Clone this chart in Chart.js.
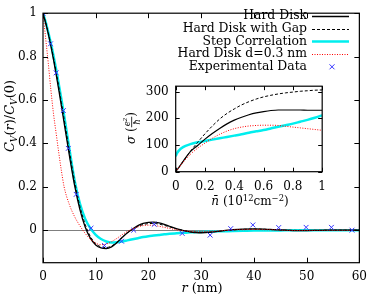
<!DOCTYPE html>
<html>
<head>
<meta charset="utf-8">
<script src="https://cdn.jsdelivr.net/npm/chart.js@4/dist/chart.umd.min.js"></script>
<style>
  body { margin: 0; background: #fff; }
  #wrap { position: relative; width: 374px; height: 295px; }
  #main { position: absolute; left: 0; top: 0; }
  #inset { position: absolute; left: 118px; top: 72px; }
</style>
</head>
<body>
<div id="wrap">
  <canvas id="main" width="374" height="295"></canvas>
  <canvas id="inset" width="216" height="135"></canvas>
</div>
<script>
// main panel: correlation vs distance r (nm)
const rGrid = [0, 0.5, 1, 1.5, 2, 2.5, 3, 3.5, 4, 5, 6, 7, 8, 9, 10, 11, 12, 13, 14, 15, 16, 17, 18, 19, 20,
  21, 22, 23, 24, 25, 26, 27, 28, 29, 30, 32, 34, 36, 38, 40, 42, 44, 46, 48, 50, 52, 54, 56, 58, 60];
const hardDisk = [1, 0.955, 0.905, 0.848, 0.785, 0.717, 0.645, 0.571, 0.495, 0.345, 0.205, 0.095, 0.015, -0.038, -0.068, -0.082, -0.085, -0.077, -0.058, -0.034, -0.012, 0.005, 0.021, 0.031, 0.036,
  0.037, 0.034, 0.027, 0.018, 0.009, 0.002, -0.004, -0.009, -0.011, -0.012, -0.009, -0.003, 0.002, 0.005, 0.006, 0.005, 0.002, 0, -0.002, -0.002, -0.001, 0, 0, 0, 0];
const hardDiskGap = [1, 0.957, 0.91, 0.855, 0.795, 0.73, 0.66, 0.588, 0.515, 0.365, 0.225, 0.11, 0.027, -0.03, -0.062, -0.077, -0.08, -0.073, -0.056, -0.034, -0.013, 0.004, 0.017, 0.026, 0.03,
  0.031, 0.028, 0.022, 0.015, 0.008, 0.002, -0.003, -0.007, -0.009, -0.01, -0.008, -0.003, 0.001, 0.004, 0.005, 0.004, 0.002, 0, -0.001, -0.001, -0.001, 0, 0, 0, 0];
const stepCorr = [1, 0.96, 0.912, 0.86, 0.803, 0.74, 0.672, 0.602, 0.53, 0.375, 0.228, 0.122, 0.052, 0.008, -0.022, -0.041, -0.052, -0.057, -0.056, -0.052, -0.047, -0.042, -0.037, -0.032, -0.028,
  -0.025, -0.022, -0.019, -0.017, -0.015, -0.013, -0.012, -0.01, -0.009, -0.008, -0.006, -0.005, -0.004, -0.003, -0.002, -0.002, -0.002, -0.001, -0.001, -0.001, -0.001, 0, 0, 0, 0];
const hardDisk03 = [1, 0.885, 0.77, 0.645, 0.535, 0.445, 0.355, 0.272, 0.2, 0.118, 0.062, 0.02, -0.015, -0.042, -0.06, -0.067, -0.064, -0.053, -0.038, -0.021, -0.006, 0.006, 0.015, 0.021, 0.023,
  0.022, 0.018, 0.013, 0.008, 0.003, -0.001, -0.004, -0.006, -0.007, -0.007, -0.005, -0.002, 0.001, 0.002, 0.003, 0.002, 0.001, 0, -0.001, -0.001, 0, 0, 0, 0, 0];
const expR = [0, 1.43, 2.5, 3.86, 4.8, 6.3, 9.1, 11.65, 14.9, 17.2, 21.1, 26.4, 31.7, 35.6, 39.8, 44.7, 49.9, 54.7, 58.6];
const expC = [1, 0.859, 0.725, 0.551, 0.377, 0.165, 0.009, -0.071, -0.051, 0.0, 0.027, -0.015, -0.023, 0.007, 0.024, 0.012, 0.013, 0.013, 0.0];
const mainXTicks = [0, 10, 20, 30, 40, 50, 60];
const mainYTicks = [0, 0.2, 0.4, 0.6, 0.8, 1];

// inset: conductivity vs density
const nGrid = [0, 0.01, 0.02, 0.05, 0.1, 0.15, 0.2, 0.25, 0.3, 0.35, 0.4, 0.45, 0.5, 0.55, 0.6, 0.65, 0.7, 0.75, 0.8, 0.85, 0.9, 0.95, 1];
const sigHard = [0, 7.5, 15, 38, 75, 98, 122, 143, 162, 179, 193, 204, 213, 220, 225, 229, 231, 231, 231, 231, 230, 230, 230];
const sigGap = [0, 7.5, 15, 38, 76, 110, 142, 171, 197, 218, 235, 250, 262, 272, 280, 286, 291, 295, 298, 301, 303, 305, 306];
const sigStep = [58, 70, 78, 92, 103, 110, 115, 120, 125, 130, 135, 140, 146, 151, 156, 162, 168, 174, 180, 187, 194, 202, 211];
const sig03 = [0, 7, 14, 35, 65, 88, 107, 125, 140, 152, 161, 167, 171, 173, 174, 174, 173, 170, 167, 164, 161, 158, 155];
const insetXTicks = [0, 0.2, 0.4, 0.6, 0.8, 1];
const insetYTicks = [0, 100, 200, 300];

const FONT = '"DejaVu Serif"';
const pts = (xs, ys) => xs.map((x, i) => ({ x: x, y: ys[i] }));

function fontOf(s, size) { return (s.it ? 'italic ' : '') + size + 'px ' + FONT; }
function segWidth(ctx, s, size) {
  if (s.frac) {
    ctx.font = fontOf({ it: true }, size * 0.72);
    return Math.max(ctx.measureText(s.frac[0]).width, ctx.measureText(s.frac[1]).width) + 2;
  }
  ctx.font = fontOf(s, (s.sub || s.sup) ? size * 0.7 : size);
  return ctx.measureText(s.t).width;
}
function drawRich(ctx, segs, cx, cy, size, rot) {
  ctx.save();
  ctx.translate(cx, cy);
  if (rot) ctx.rotate(rot);
  ctx.fillStyle = '#000';
  ctx.textBaseline = 'alphabetic';
  ctx.textAlign = 'left';
  const total = segs.reduce((a, s) => a + segWidth(ctx, s, size), 0);
  let x = -total / 2;
  const base = size * 0.36;
  for (const s of segs) {
    const w = segWidth(ctx, s, size);
    if (s.frac) {
      const fs = size * 0.72;
      ctx.font = fontOf({ it: true }, fs);
      ctx.textAlign = 'center';
      const bar = base - size * 0.3;
      ctx.fillText(s.frac[0], x + w / 2, bar - 1.5);
      ctx.fillText(s.frac[1], x + w / 2, bar + 1.5 + fs * 0.73);
      ctx.fillRect(x, bar - 0.4, w, 0.8);
      ctx.textAlign = 'left';
    } else {
      ctx.font = fontOf(s, (s.sub || s.sup) ? size * 0.7 : size);
      const dy = s.sub ? size * 0.22 : s.sup ? -size * 0.4 : 0;
      ctx.fillText(s.t, x, base + dy);
    }
    x += w;
  }
  ctx.restore();
}

function frameAndTicks(chart, xTicks, yTicks, len) {
  const ctx = chart.ctx, a = chart.chartArea;
  const xs = chart.scales.x, ys = chart.scales.y;
  ctx.save();
  ctx.strokeStyle = '#000';
  ctx.lineWidth = 1;
  ctx.beginPath();
  xTicks.forEach(v => {
    const px = Math.round(xs.getPixelForValue(v)) + 0.5;
    ctx.moveTo(px, a.bottom); ctx.lineTo(px, a.bottom - len);
    ctx.moveTo(px, a.top); ctx.lineTo(px, a.top + len);
  });
  yTicks.forEach(v => {
    const py = Math.round(ys.getPixelForValue(v)) + 0.5;
    ctx.moveTo(a.left, py); ctx.lineTo(a.left + len, py);
    ctx.moveTo(a.right, py); ctx.lineTo(a.right - len, py);
  });
  ctx.stroke();
  ctx.lineWidth = 1.2;
  ctx.strokeRect(a.left, a.top, a.right - a.left, a.bottom - a.top);
  ctx.restore();
}

function fmt(v) { return String(Math.round(v * 10) / 10); }

const mainPlugin = {
  id: 'mainDeco',
  beforeDatasetsDraw(chart) {
    const ctx = chart.ctx, a = chart.chartArea;
    const py = Math.round(chart.scales.y.getPixelForValue(0)) + 0.5;
    ctx.save();
    ctx.strokeStyle = '#7f7f7f';
    ctx.lineWidth = 1;
    ctx.beginPath(); ctx.moveTo(a.left, py); ctx.lineTo(a.right, py); ctx.stroke();
    ctx.restore();
  },
  afterDatasetsDraw(chart) {
    const ctx = chart.ctx;
    frameAndTicks(chart, mainXTicks, mainYTicks, 5);
    // legend
    const rows = [
      { label: 'Hard Disk', color: '#000', width: 1.3, dash: [] },
      { label: 'Hard Disk with Gap', color: '#000', width: 1, dash: [3, 2] },
      { label: 'Step Correlation', color: '#00eeee', width: 2.5, dash: [] },
      { label: 'Hard Disk d=0.3 nm', color: '#ff0000', width: 1, dash: [1, 1.5] },
      { label: 'Experimental Data', marker: true }
    ];
    ctx.save();
    ctx.font = '12.4px ' + FONT;
    ctx.textAlign = 'right';
    ctx.textBaseline = 'middle';
    rows.forEach((r, i) => {
      const y = 16 + i * 12.7;
      ctx.fillStyle = '#000';
      ctx.fillText(r.label, 307, y);
      if (r.marker) {
        ctx.strokeStyle = '#3333ff'; ctx.lineWidth = 1; ctx.setLineDash([]);
        ctx.beginPath();
        ctx.moveTo(329.5, y - 2.5); ctx.lineTo(334.5, y + 2.5);
        ctx.moveTo(329.5, y + 2.5); ctx.lineTo(334.5, y - 2.5);
        ctx.stroke();
      } else {
        ctx.strokeStyle = r.color; ctx.lineWidth = r.width; ctx.setLineDash(r.dash);
        ctx.beginPath(); ctx.moveTo(312, Math.round(y) + 0.5); ctx.lineTo(349, Math.round(y) + 0.5); ctx.stroke();
      }
    });
    ctx.restore();
    // axis titles
    drawRich(ctx, [{ t: 'r', it: true }, { t: ' (nm)' }], 202, 287, 13);
    drawRich(ctx, [{ t: 'C', it: true }, { t: 'V', it: true, sub: true }, { t: '(' }, { t: 'r', it: true }, { t: ')/' },
      { t: 'C', it: true }, { t: 'V', it: true, sub: true }, { t: '(0)' }], 9, 116, 13, -Math.PI / 2);
  }
};

const insetPlugin = {
  id: 'insetDeco',
  beforeDraw(chart) {
    const ctx = chart.ctx, a = chart.chartArea;
    ctx.save();
    ctx.fillStyle = '#fff';
    ctx.fillRect(a.left, a.top, a.right - a.left, a.bottom - a.top);
    ctx.restore();
  },
  afterDatasetsDraw(chart) {
    const ctx = chart.ctx;
    frameAndTicks(chart, insetXTicks, insetYTicks, 4);
    drawRich(ctx, [{ t: 'n\u0304', it: true }, { t: ' (10' }, { t: '12', sup: true }, { t: 'cm' }, { t: '\u22122', sup: true }, { t: ')' }], 132, 129, 12);
    drawRich(ctx, [{ t: '\u03c3', it: true }, { t: ' (' }, { frac: ['e\u00b2', '\u0127'] }, { t: ')' }], 13, 56, 12, -Math.PI / 2);
  }
};

function axisCommon(ticksArr, width, height, pad) {
  return {
    type: 'linear',
    grid: { display: false, drawTicks: false },
    border: { display: false },
    ticks: { font: { family: FONT, size: 12 }, color: '#000', padding: pad, maxRotation: 0, autoSkip: false, callback: v => fmt(v) },
    afterBuildTicks: s => { s.ticks = ticksArr.map(v => ({ value: v })); },
    afterFit: s => { if (width != null) s.width = width; if (height != null) s.height = height; }
  };
}

const lineDs = (label, ys, color, width, dash, order) => ({
  label: label, data: pts(rGrid, ys), borderColor: color, borderWidth: width, borderDash: dash,
  pointRadius: 0, fill: false, cubicInterpolationMode: 'monotone', order: order
});

new Chart(document.getElementById('main'), {
  type: 'line',
  data: {
    datasets: [
      { label: 'Experimental Data', data: pts(expR, expC), showLine: false, pointStyle: 'crossRot', pointRadius: 3.4,
        pointBorderColor: '#3333ff', pointBorderWidth: 1, order: 0 },
      lineDs('Hard Disk d=0.3 nm', hardDisk03, '#ff0000', 1, [1, 1.5], 1),
      lineDs('Hard Disk with Gap', hardDiskGap, '#000', 1, [3, 2], 2),
      lineDs('Hard Disk', hardDisk, '#000', 1.3, [], 3),
      lineDs('Step Correlation', stepCorr, '#00eeee', 2.5, [], 4)
    ]
  },
  options: {
    responsive: false, animation: false, devicePixelRatio: 1,
    layout: { padding: { top: 7, right: 10, left: 0, bottom: 0 } },
    plugins: { legend: { display: false }, tooltip: { enabled: false } },
    scales: {
      x: Object.assign(axisCommon(mainXTicks, null, 32.3, 7), { min: 0, max: 60 }),
      y: Object.assign(axisCommon(mainYTicks, 43, null, 6), { min: -0.15, max: 1 })
    }
  },
  plugins: [mainPlugin]
});

const insetDs = (ys, color, width, dash, order) => ({
  data: pts(nGrid, ys), borderColor: color, borderWidth: width, borderDash: dash,
  pointRadius: 0, fill: false, cubicInterpolationMode: 'monotone', order: order
});

new Chart(document.getElementById('inset'), {
  type: 'line',
  data: {
    datasets: [
      insetDs(sig03, '#ff0000', 1, [1, 1.5], 1),
      insetDs(sigGap, '#000', 1, [3, 2], 2),
      insetDs(sigHard, '#000', 1.2, [], 3),
      insetDs(sigStep, '#00eeee', 2.5, [], 4)
    ]
  },
  options: {
    responsive: false, animation: false, devicePixelRatio: 1,
    layout: { padding: { top: 9, right: 6.3, left: 0, bottom: 0 } },
    plugins: { legend: { display: false }, tooltip: { enabled: false } },
    scales: {
      x: Object.assign(axisCommon(insetXTicks, null, 35.3, 8), { min: 0, max: 1 }),
      y: Object.assign(axisCommon(insetYTicks, 57.7, null, 7), { min: 0, max: 320 })
    }
  },
  plugins: [insetPlugin]
});
</script>
</body>
</html>
